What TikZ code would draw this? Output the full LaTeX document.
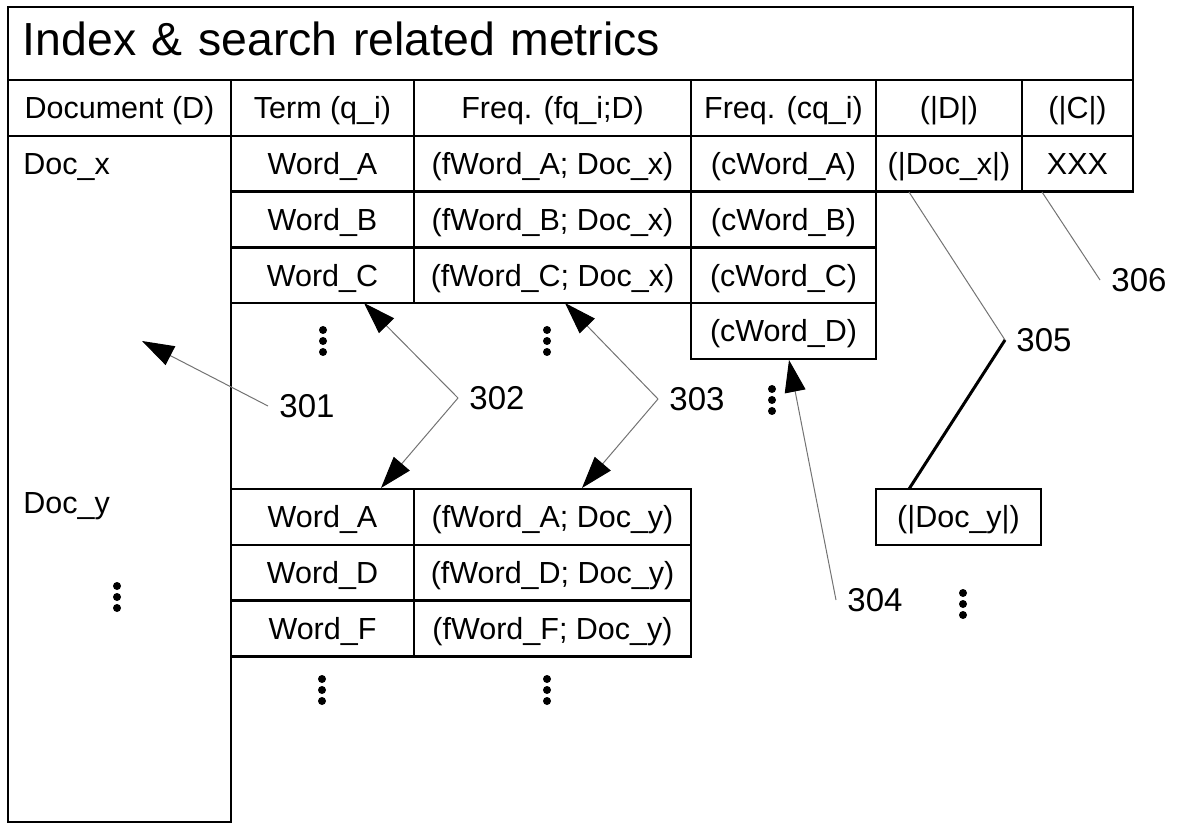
\documentclass[tikz,border=0pt]{standalone}
\usepackage{fontspec}
\setmainfont{Liberation Sans}
\usetikzlibrary{positioning, arrows.meta}

\newcommand{\cellfont}{\fontsize{15.25}{18}\selectfont}
\newcommand{\titlefont}{\fontsize{23.2}{28}\selectfont}
\newcommand{\numfont}{\fontsize{16.5}{20}\selectfont}

\tikzset{
  cell/.style={draw, line width=1.2pt, rectangle, inner sep=0pt, outer sep=0pt,
    minimum height=27.9pt, text height=10.9pt, text depth=0pt, font=\cellfont},
  doccol/.style={minimum width=111.5pt},
  termcol/.style={minimum width=91.5pt},
  freqcol/.style={minimum width=138.5pt},
  cfreqcol/.style={minimum width=92.5pt},
  lencol/.style={minimum width=73pt},
  sizecol/.style={minimum width=55.5pt},
  num/.style={font=\numfont, inner xsep=5.5pt, inner ysep=0pt, text height=11.8pt,
    text depth=0pt, anchor=west},
  lead/.style={draw=black!55, line width=0.5pt},
  arrowtip/.style={-{Triangle[length=16pt, width=10.5pt, color=black]}}
}

\begin{document}
\begin{tikzpicture}[x=0.5pt, y=-0.5pt, node distance=0pt]
\useasboundingbox (0,0) rectangle (1188,823);

% title and header row
\node[cell, anchor=north west, minimum width=562.5pt, minimum height=36.5pt, font=\titlefont,
  text height=16.6pt, text depth=5pt, inner xsep=7.5pt, text width=547.5pt, align=left] (title) at (8,7) {Index \& search related metrics};
\node[cell, doccol, anchor=north west] (hdoc) at (title.south west) {Document (D)};
\node[cell, termcol, right=0pt of hdoc] (hterm) {Term (q\_i)};
\node[cell, freqcol, right=0pt of hterm] (hfreq) {Freq. (fq\_i;D)};
\node[cell, cfreqcol, right=0pt of hfreq] (hcfreq) {Freq. (cq\_i)};
\node[cell, lencol, right=0pt of hcfreq] (hlen) {(|D|)};
\node[cell, sizecol, right=0pt of hlen] (hsize) {(|C|)};

% document column
\node[cell, doccol, below=0pt of hdoc, minimum height=343pt] (docs) {};
\node[font=\cellfont, anchor=base west, inner sep=0pt] (docx) at (23,175) {Doc\_x};
\node[font=\cellfont, anchor=base west, inner sep=0pt] (docy) at (23,513) {Doc\_y};

% entries of Doc_x
\node[cell, termcol, below=0pt of hterm] (termA) {Word\_A};
\node[cell, termcol, below=0pt of termA] (termB) {Word\_B};
\node[cell, termcol, below=0pt of termB] (termC) {Word\_C};
\node[cell, freqcol, below=0pt of hfreq] (freqA) {(fWord\_A; Doc\_x)};
\node[cell, freqcol, below=0pt of freqA] (freqB) {(fWord\_B; Doc\_x)};
\node[cell, freqcol, below=0pt of freqB] (freqC) {(fWord\_C; Doc\_x)};
\node[cell, cfreqcol, below=0pt of hcfreq] (cfreqA) {(cWord\_A)};
\node[cell, cfreqcol, below=0pt of cfreqA] (cfreqB) {(cWord\_B)};
\node[cell, cfreqcol, below=0pt of cfreqB] (cfreqC) {(cWord\_C)};
\node[cell, cfreqcol, below=0pt of cfreqC] (cfreqD) {(cWord\_D)};
\node[cell, lencol, below=0pt of hlen] (lenx) {(|Doc\_x|)};
\node[cell, sizecol, below=0pt of hsize] (sizeall) {XXX};

% entries of Doc_y
\node[cell, termcol, anchor=north west] (termyA) at (231,489) {Word\_A};
\node[cell, termcol, below=0pt of termyA] (termyD) {Word\_D};
\node[cell, termcol, below=0pt of termyD] (termyF) {Word\_F};
\node[cell, freqcol, right=0pt of termyA] (freqyA) {(fWord\_A; Doc\_y)};
\node[cell, freqcol, right=0pt of termyD] (freqyD) {(fWord\_D; Doc\_y)};
\node[cell, freqcol, right=0pt of termyF] (freqyF) {(fWord\_F; Doc\_y)};
\node[cell, minimum width=82.5pt, anchor=north west] (leny) at (876,489) {(|Doc\_y|)};

% continuation dots
\foreach \x/\y in {323/341, 547/341, 772/400, 117/597, 322/690, 547/690, 963/604}
  \foreach \k in {-11,0,11}
    \fill (\x,\y+\k) circle (2pt);

% reference numerals
\node[num] (l301) at (268,406) {301};
\node[num] (l302) at (458,398) {302};
\node[num] (l303) at (658,399) {303};
\node[num] (l304) at (836,600) {304};
\node[num] (l305) at (1005,340) {305};
\node[num] (l306) at (1100,280) {306};

\coordinate (t301) at (142,341);
\coordinate (t302a) at (364,303);
\coordinate (t302b) at (381,488);
\coordinate (t303a) at (565,303);
\coordinate (t303b) at (582,488);
\coordinate (t304) at (789,360);
\coordinate (e305a) at (909,192);
\coordinate (e305b) at (909,489);
\coordinate (e306) at (1042,192);

\draw[lead, arrowtip] (l301.west) -- (t301);
\draw[lead, arrowtip] (l302.west) -- (t302a);
\draw[lead, arrowtip] (l302.west) -- (t302b);
\draw[lead, arrowtip] (l303.west) -- (t303a);
\draw[lead, arrowtip] (l303.west) -- (t303b);
\draw[lead, arrowtip] (l304.west) -- (t304);
\draw[lead] (l305.west) -- (e305a);
\draw[line width=1.5pt] (l305.west) -- (e305b);
\draw[lead] (l306.west) -- (e306);

\end{tikzpicture}
\end{document}
